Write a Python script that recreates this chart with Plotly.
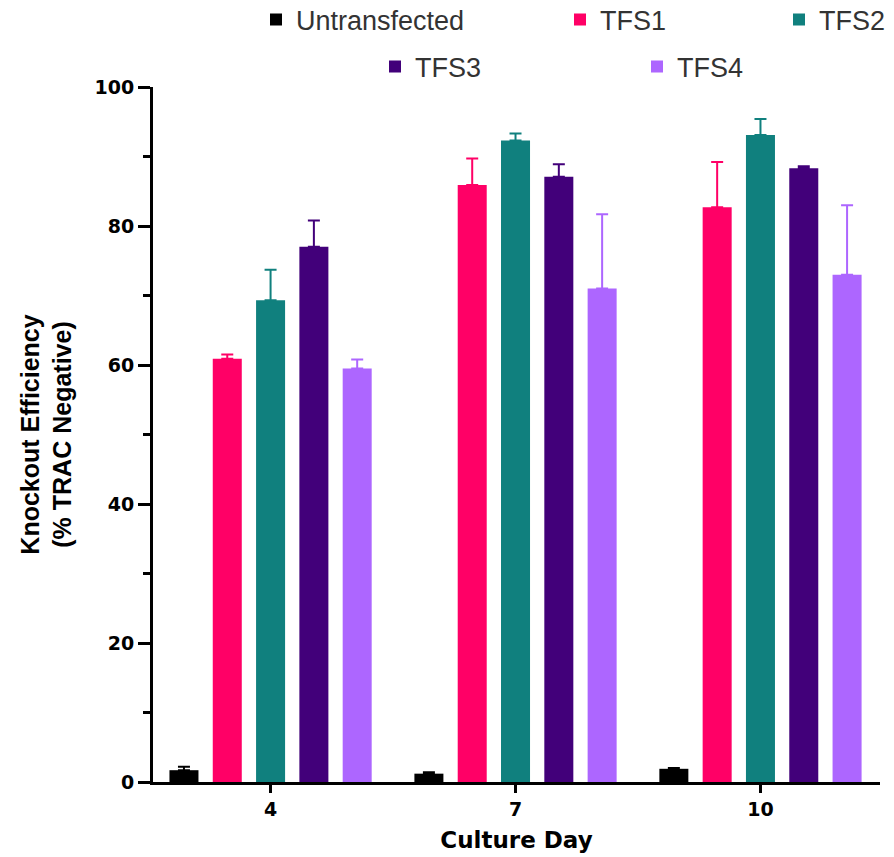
import plotly.graph_objects as go

# Culture days on the x axis
days = ["4", "7", "10"]

# Knockout efficiency (% TRAC negative), mean per day
untransfected = [1.7, 1.2, 1.9]
tfs1 = [60.9, 85.9, 82.7]
tfs2 = [69.3, 92.3, 93.1]
tfs3 = [77.0, 87.1, 88.3]
tfs4 = [59.5, 71.0, 73.0]

# Upper error (SD) per day
untransfected_err = [0.5, 0.2, 0.1]
tfs1_err = [0.6, 3.8, 6.5]
tfs2_err = [4.4, 1.0, 2.3]
tfs3_err = [3.8, 1.8, 0.3]
tfs4_err = [1.3, 10.7, 10.0]

y_ticks = [0, 20, 40, 60, 80, 100]

series = [
    ("Untransfected", untransfected, untransfected_err, "#000000"),
    ("TFS1", tfs1, tfs1_err, "#FF0066"),
    ("TFS2", tfs2, tfs2_err, "#10807E"),
    ("TFS3", tfs3, tfs3_err, "#42007A"),
    ("TFS4", tfs4, tfs4_err, "#AD66FF"),
]

# one legend per entry so the two-row key can be laid out freely
legend_refs = ["legend", "legend2", "legend3", "legend4", "legend5"]

fig = go.Figure()
for (name, vals, errs, color), lg in zip(series, legend_refs):
    fig.add_trace(go.Bar(
        name=name,
        x=days,
        y=vals,
        marker=dict(color=color, line=dict(width=0)),
        error_y=dict(type="data", symmetric=False, array=errs,
                     arrayminus=[0] * len(errs), color=color,
                     thickness=2, width=6),
        legend=lg,
    ))

W, H = 894, 857
L, R, T, B = 153, 14, 87, 75

legend_font = dict(family="Liberation Sans, Arial", size=27, color="#333333")

# (left edge px, vertical centre px) for each legend entry, in figure pixels
legend_pos = [(256, 20), (560, 20), (779, 20), (375, 67), (637, 67)]
legend_layouts = {}
for lg, (lx, ly) in zip(legend_refs, legend_pos):
    legend_layouts[lg] = dict(
        xref="container", yref="container",
        x=lx / W, y=1 - ly / H, xanchor="left", yanchor="middle",
        orientation="h", bgcolor="rgba(0,0,0,0)", borderwidth=0,
        font=legend_font,
    )

tick_font = dict(family="DejaVu Sans, Arial Black, Arial", size=19,
                 color="#000000", weight="bold")

fig.update_layout(
    width=W, height=H,
    margin=dict(l=L, r=R, t=T, b=B, pad=0, autoexpand=False),
    paper_bgcolor="white",
    plot_bgcolor="white",
    barmode="group",
    bargap=0.116,
    bargroupgap=0.33,
    showlegend=True,
    **legend_layouts,
    xaxis=dict(
        type="category",
        range=[-0.48, 2.488],
        showgrid=False,
        zeroline=False,
        showline=True, linecolor="#000000", linewidth=3,
        ticks="outside", ticklen=8, tickwidth=3, tickcolor="#000000",
        tickfont=tick_font,
        title=dict(text="Culture Day", standoff=14,
                   font=dict(family="DejaVu Sans, Arial Black, Arial", size=23,
                             color="#000000", weight="bold")),
    ),
    yaxis=dict(
        range=[0, 100],
        tickvals=y_ticks,
        showgrid=False,
        zeroline=False,
        showline=True, linecolor="#000000", linewidth=3,
        ticks="outside", ticklen=12, tickwidth=3, tickcolor="#000000",
        tickfont=tick_font,
        minor=dict(dtick=10, ticks="outside", ticklen=7, tickwidth=3,
                   tickcolor="#000000", showgrid=False),
        title=dict(text="Knockout Efficiency<br>(% TRAC Negative)", standoff=16,
                   font=dict(family="Liberation Sans, Arial", size=25,
                             color="#000000", weight="bold")),
    ),
)

fig.write_html("out.html")
